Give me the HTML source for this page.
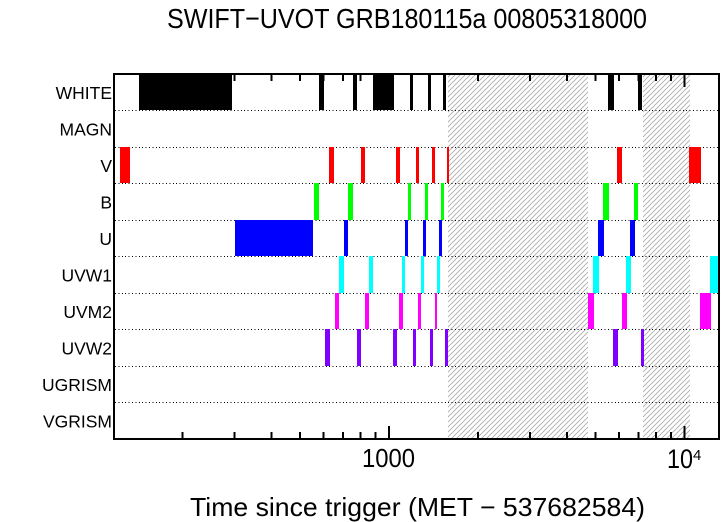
<!DOCTYPE html>
<html><head><meta charset="utf-8"><style>
html,body{margin:0;padding:0;background:#fff;}
svg{display:block;}
text{font-family:"Liberation Sans",Arial,sans-serif;fill:#000;}
</style></head><body>
<svg width="721" height="522" viewBox="0 0 721 522" xmlns="http://www.w3.org/2000/svg">
<defs>
<pattern id="h" patternUnits="userSpaceOnUse" width="5" height="5">
<path d="M-1,1 L1,-1 M0,5 L5,0 M4,6 L6,4" stroke="#a8a8a8" stroke-width="0.8"/>
</pattern>
</defs>
<rect width="721" height="522" fill="#fff"/>
<text x="167" y="28" font-size="28" textLength="480" lengthAdjust="spacingAndGlyphs">SWIFT−UVOT GRB180115a 00805318000</text>

<!-- hatch -->
<rect x="448" y="74" width="140" height="365" fill="url(#h)"/>
<rect x="643" y="74" width="47" height="365" fill="url(#h)"/>

<!-- dotted lines -->
<g stroke="#000" stroke-width="1" stroke-dasharray="1 2.4" shape-rendering="crispEdges">
<line x1="115" x2="718" y1="110.5" y2="110.5"/>
<line x1="115" x2="718" y1="147.5" y2="147.5"/>
<line x1="115" x2="718" y1="183.5" y2="183.5"/>
<line x1="115" x2="718" y1="220.5" y2="220.5"/>
<line x1="115" x2="718" y1="256.5" y2="256.5"/>
<line x1="115" x2="718" y1="293.5" y2="293.5"/>
<line x1="115" x2="718" y1="329.5" y2="329.5"/>
<line x1="115" x2="718" y1="366.5" y2="366.5"/>
<line x1="115" x2="718" y1="402.5" y2="402.5"/>
</g>

<g shape-rendering="crispEdges">
<!-- WHITE -->
<g fill="#000">
<rect x="139" y="74" width="93" height="36"/>
<rect x="319" y="74" width="5" height="36"/>
<rect x="353" y="74" width="4" height="36"/>
<rect x="373" y="74" width="21" height="36"/>
<rect x="410" y="74" width="3" height="36"/>
<rect x="428" y="74" width="3" height="36"/>
<rect x="443" y="74" width="3" height="36"/>
<rect x="608" y="74" width="6" height="36"/>
<rect x="638" y="74" width="4" height="36"/>
</g>
<!-- V -->
<g fill="#ff0000">
<rect x="120" y="147" width="10" height="36"/>
<rect x="329" y="147" width="5" height="36"/>
<rect x="361" y="147" width="4" height="36"/>
<rect x="396" y="147" width="4" height="36"/>
<rect x="416" y="147" width="3" height="36"/>
<rect x="432" y="147" width="3" height="36"/>
<rect x="447" y="147" width="2" height="36"/>
<rect x="617" y="147" width="5" height="36"/>
<rect x="689" y="147" width="12" height="36"/>
</g>
<!-- B -->
<g fill="#00ff00">
<rect x="314" y="183" width="5" height="37"/>
<rect x="348" y="183" width="5" height="37"/>
<rect x="408" y="183" width="3" height="37"/>
<rect x="425" y="183" width="3" height="37"/>
<rect x="441" y="183" width="3" height="37"/>
<rect x="603" y="183" width="6" height="37"/>
<rect x="634" y="183" width="4" height="37"/>
</g>
<!-- U -->
<g fill="#0000ff">
<rect x="235" y="220" width="78" height="36"/>
<rect x="344" y="220" width="4" height="36"/>
<rect x="405" y="220" width="3" height="36"/>
<rect x="423" y="220" width="3" height="36"/>
<rect x="439" y="220" width="3" height="36"/>
<rect x="598" y="220" width="6" height="36"/>
<rect x="630" y="220" width="5" height="36"/>
</g>
<!-- UVW1 -->
<g fill="#00ffff">
<rect x="339" y="256" width="5" height="37"/>
<rect x="369" y="256" width="4" height="37"/>
<rect x="402" y="256" width="3" height="37"/>
<rect x="421" y="256" width="3" height="37"/>
<rect x="437" y="256" width="3" height="37"/>
<rect x="593" y="256" width="6" height="37"/>
<rect x="626" y="256" width="5" height="37"/>
<rect x="710" y="256" width="8" height="37"/>
</g>
<!-- UVM2 -->
<g fill="#ff00ff">
<rect x="335" y="293" width="4" height="36"/>
<rect x="365" y="293" width="4" height="36"/>
<rect x="399" y="293" width="4" height="36"/>
<rect x="418" y="293" width="3" height="36"/>
<rect x="435" y="293" width="2" height="36"/>
<rect x="588" y="293" width="6" height="36"/>
<rect x="622" y="293" width="5" height="36"/>
<rect x="700" y="293" width="11" height="36"/>
</g>
<!-- UVW2 -->
<g fill="#8000ff">
<rect x="325" y="329" width="5" height="37"/>
<rect x="357" y="329" width="4" height="37"/>
<rect x="393" y="329" width="4" height="37"/>
<rect x="413" y="329" width="3" height="37"/>
<rect x="430" y="329" width="3" height="37"/>
<rect x="445" y="329" width="3" height="37"/>
<rect x="613" y="329" width="5" height="37"/>
<rect x="641" y="329" width="3" height="37"/>
</g>
</g>

<!-- ticks -->
<g stroke="#000" stroke-width="2" shape-rendering="crispEdges">
<path d="M182.4,74v7 M234.5,74v7 M271.4,74v7 M300,74v7 M323.4,74v7 M343.2,74v7 M360.4,74v7 M375.5,74v7 M478,74v7 M530,74v7 M567,74v7 M595.5,74v7 M619,74v7 M638.7,74v7 M656,74v7 M671,74v7"/>
<path d="M389,74v13 M684.5,74v13"/>
<path d="M182.4,439v-7 M234.5,439v-7 M271.4,439v-7 M300,439v-7 M323.4,439v-7 M343.2,439v-7 M360.4,439v-7 M375.5,439v-7 M478,439v-7 M530,439v-7 M567,439v-7 M595.5,439v-7 M619,439v-7 M638.7,439v-7 M656,439v-7 M671,439v-7"/>
<path d="M389,439v-13 M684.5,439v-13"/>
</g>

<!-- frame -->
<rect x="114" y="74" width="605" height="365" fill="none" stroke="#000" stroke-width="2" shape-rendering="crispEdges"/>

<!-- y labels -->
<g font-size="17.5" text-anchor="end">
<text x="112" y="99">WHITE</text>
<text x="112" y="135.5">MAGN</text>
<text x="112" y="172">V</text>
<text x="112" y="208.5">B</text>
<text x="112" y="245">U</text>
<text x="112" y="281.5">UVW1</text>
<text x="112" y="318">UVM2</text>
<text x="112" y="354.5">UVW2</text>
<text x="112" y="391">UGRISM</text>
<text x="112" y="427.5">VGRISM</text>
</g>

<!-- x tick labels -->
<text x="362" y="467" font-size="26" textLength="53" lengthAdjust="spacingAndGlyphs">1000</text>
<text x="667" y="468" font-size="27" textLength="26" lengthAdjust="spacingAndGlyphs">10</text>
<text x="693" y="460" font-size="15">4</text>

<!-- x label -->
<text x="190" y="516" font-size="26" textLength="455" lengthAdjust="spacingAndGlyphs">Time since trigger (MET − 537682584)</text>
</svg>
</body></html>
